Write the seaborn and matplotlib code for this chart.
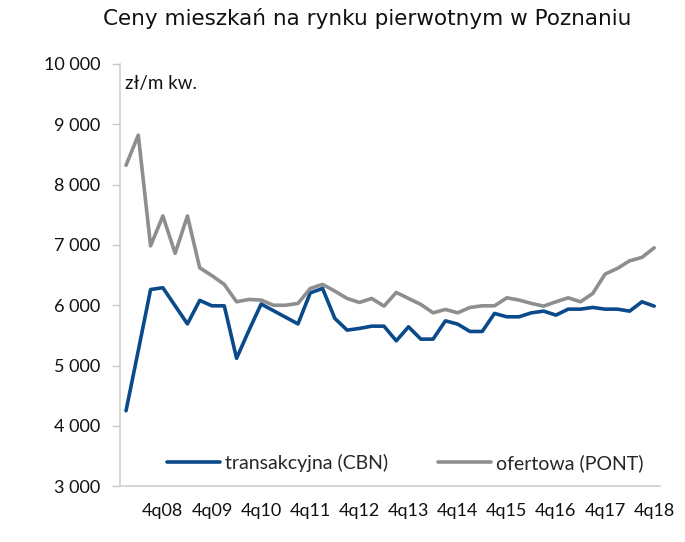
import numpy as np
import pandas as pd
import matplotlib
matplotlib.use("Agg")
import matplotlib.pyplot as plt
import seaborn as sns

quarters = [f"{q}q{y:02d}" for y in range(8, 19) for q in range(1, 5)]

transakcyjna = [4250, 5250, 6260, 6290, 5990, 5690, 6080, 5990, 5990, 5120,
                5580, 6020, 5910, 5800, 5690, 6205, 6278, 5781, 5587, 5615,
                5653, 5653, 5410, 5642, 5438, 5438, 5741, 5687, 5565, 5565,
                5864, 5808, 5808, 5874, 5902, 5836, 5935, 5935, 5963, 5935,
                5935, 5902, 6057, 5985]

ofertowa = [8320, 8820, 6985, 7480, 6860, 7480, 6620, 6490, 6345, 6057,
            6096, 6085, 6000, 6000, 6030, 6278, 6345, 6234, 6112, 6046,
            6112, 5985, 6212, 6112, 6013, 5874, 5930, 5874, 5963, 5990,
            5990, 6123, 6085, 6030, 5985, 6057, 6123, 6057, 6195, 6516,
            6610, 6736, 6793, 6952]

tick_labels = ["4q08", "4q09", "4q10", "4q11", "4q12", "4q13",
               "4q14", "4q15", "4q16", "4q17", "4q18"]

df = pd.DataFrame({
    "idx": np.arange(len(quarters)),
    "kwartal": quarters,
    "transakcyjna (CBN)": transakcyjna,
    "ofertowa (PONT)": ofertowa,
})

sns.set_style("white")
plt.rcParams["font.family"] = ["Lato", "DejaVu Sans"]

fig = plt.figure(figsize=(6.85, 5.42), dpi=100)
ax = fig.add_axes([0.175, 0.103, 0.789, 0.779])

sns.lineplot(data=df, x="idx", y="transakcyjna (CBN)", ax=ax, color="#0b4a8a",
             linewidth=2.6, label="transakcyjna (CBN)")
sns.lineplot(data=df, x="idx", y="ofertowa (PONT)", ax=ax, color="#8e8e8e",
             linewidth=2.6, label="ofertowa (PONT)")

ax.set_xlim(-0.5, len(quarters) - 0.5)
ax.set_ylim(3000, 10000)
ax.set_yticks(range(3000, 10001, 1000))
ax.set_yticklabels([f"{v:,}".replace(",", " ") for v in range(3000, 10001, 1000)])

pos = [quarters.index(t) for t in tick_labels]
ax.set_xticks(pos)
ax.set_xticklabels(tick_labels)
ax.set_xticks(np.arange(-0.5, len(quarters), 1), minor=True)
ax.tick_params(axis="x", which="major", length=0, pad=12, labelsize=13, colors="#111111")
ax.tick_params(axis="x", which="minor", length=5, color="#c8c8c8", width=1)
ax.tick_params(axis="y", length=6, color="#c8c8c8", width=1, pad=8,
               labelsize=13, labelcolor="#111111", left=True)

ax.set_xlabel("")
ax.set_ylabel("")
for s in ["top", "right"]:
    ax.spines[s].set_visible(False)
for s in ["left", "bottom"]:
    ax.spines[s].set_color("#cfcfcf")
    ax.spines[s].set_linewidth(1.2)

ax.text(0.01, 0.975, "zł/m kw.", transform=ax.transAxes, fontsize=13.5,
        va="top", ha="left", color="#111111")

ax.legend(loc="lower center", bbox_to_anchor=(0.528, -0.008), ncol=2, frameon=False,
          fontsize=14, handlelength=2.7, columnspacing=2.6, handletextpad=0.25)

fig.text(0.536, 0.965, "Ceny mieszkań na rynku pierwotnym w Poznaniu",
         ha="center", va="center", fontsize=15.5, color="#111111",
         family=["DejaVu Sans"])

fig.savefig("out.png", dpi=100)
